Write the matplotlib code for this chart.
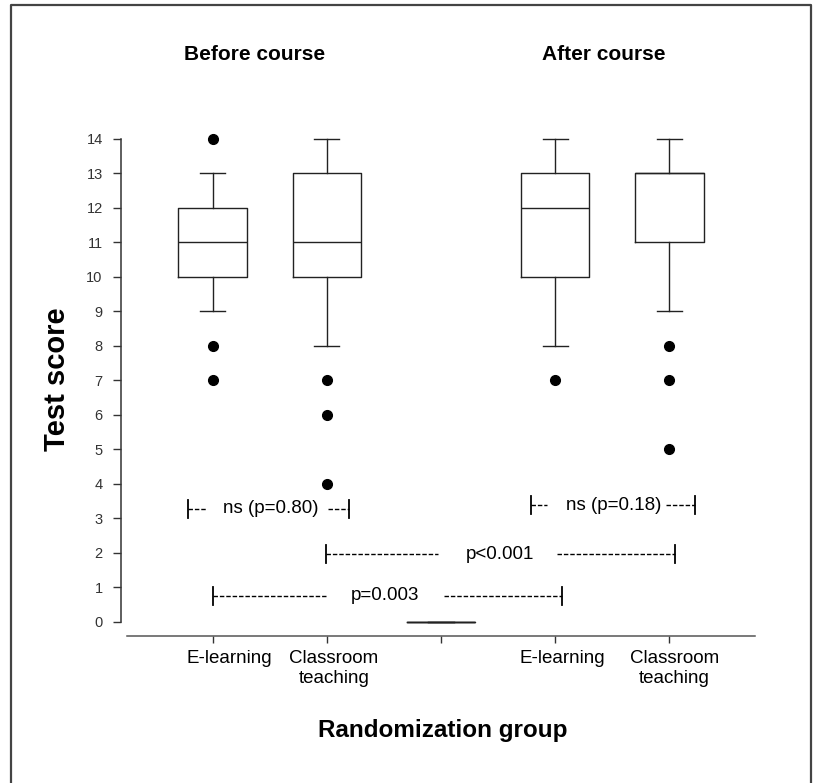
import matplotlib
matplotlib.use("Agg")
import matplotlib.pyplot as plt
import matplotlib.transforms as mtransforms
from matplotlib.lines import Line2D

plt.rcParams['font.family'] = ['Liberation Sans', 'DejaVu Sans']

# box plot summaries (position 3 is the empty gap)
groups = ["E-learning", "Classroom\nteaching", "", "E-learning", "Classroom\nteaching"]
q1 = [10, 10, 0, 10, 11]
med = [11, 11, 0, 12, 13]
q3 = [12, 13, 0, 13, 13]
whislo = [9, 8, 0, 8, 9]
whishi = [13, 14, 0, 14, 14]
fliers = [[14, 8, 7], [7, 6, 4], [], [7], [8, 7, 5]]

# comparison brackets: y, left end, dash stop, dash restart, right end, text x, label
comparisons = [
    (3.27, 0.78, 0.95, 2.01, 2.19, 1.51, "ns (p=0.80)"),
    (3.38, 3.79, 3.93, 4.97, 5.22, 4.51, "ns (p=0.18)"),
    (1.96, 1.99, 2.97, 4.02, 5.05, 3.515, "p<0.001"),
    (0.75, 1.00, 1.99, 3.03, 4.06, 2.51, "p=0.003"),
]

fig = plt.figure(figsize=(8.13, 7.83), dpi=100)
ax = fig.add_axes([0.1562, 0.1877, 0.7725, 0.6568])

stats = []
for i in range(len(groups)):
    stats.append({'med': med[i], 'q1': q1[i], 'q3': q3[i],
                  'whislo': whislo[i], 'whishi': whishi[i], 'fliers': fliers[i]})
pos = list(range(1, len(groups) + 1))
lc = '#222222'
ax.bxp(stats, positions=pos, widths=0.6, capwidths=0.22, showfliers=True,
       boxprops=dict(color=lc, lw=1.0),
       medianprops=dict(color=lc, lw=1.0),
       whiskerprops=dict(color=lc, lw=1.0),
       capprops=dict(color=lc, lw=1.0),
       flierprops=dict(marker='o', markerfacecolor='black', markeredgecolor='black',
                       markersize=7))

dash = (0, (3.2, 1.4))
for y, L, a, b, R, tx, label in comparisons:
    ax.plot([L, a], [y, y], color='black', lw=1.0, ls=dash)
    ax.plot([b, R], [y, y], color='black', lw=1.0, ls=dash)
    ax.plot([L, L], [y - 0.26, y + 0.26], color='black', lw=1.3)
    ax.plot([R, R], [y - 0.26, y + 0.26], color='black', lw=1.3)
    ax.text(tx, y, label, ha='center', va='center', fontsize=13.5)

ax.set_xlim(0.25, 5.75)
ax.set_ylim(-0.415, 14.5)
ax.set_xticks(pos)
ax.set_xticklabels(groups, fontsize=13.5, linespacing=1.2)
ax.set_yticks(range(0, 15))
ax.tick_params(axis='y', length=6, width=1.0, pad=7, labelsize=10.5,
               color='#333333', labelcolor='#333333')
ax.tick_params(axis='x', length=5, width=1.0, pad=5, color='#333333')

# labels sit a little right of their ticks in the original
shifts = [17, 7, 0, 7, 5]
for lab, dx in zip(ax.get_xticklabels(), shifts):
    lab.set_transform(lab.get_transform() +
                      mtransforms.ScaledTranslation(dx / 100, 0, fig.dpi_scale_trans))

for s in ['top', 'right']:
    ax.spines[s].set_visible(False)
ax.spines['left'].set_position(('outward', 4.5))
ax.spines['left'].set_bounds(0, 14)
ax.spines['left'].set_color('#333333')
ax.spines['bottom'].set_color('#555555')
ax.spines['left'].set_linewidth(1.1)
ax.spines['bottom'].set_linewidth(1.1)

ax.set_ylabel("Test score", fontsize=21, fontweight='bold', labelpad=11)
fig.text(0.545, 0.0665, "Randomization group", fontsize=17.5, fontweight='bold',
         ha='center', va='center')

fig.text(0.3137, 0.931, "Before course", fontsize=15, fontweight='bold',
         ha='center', va='center')
fig.text(0.743, 0.931, "After course", fontsize=15, fontweight='bold',
         ha='center', va='center')

# outer frame (no bottom edge visible)
fig.add_artist(Line2D([0.0135, 0.0135, 0.9975, 0.9975], [-0.01, 0.9936, 0.9936, -0.01],
                      transform=fig.transFigure, color='#444444', lw=1.6))

fig.savefig("out.png", dpi=100)
